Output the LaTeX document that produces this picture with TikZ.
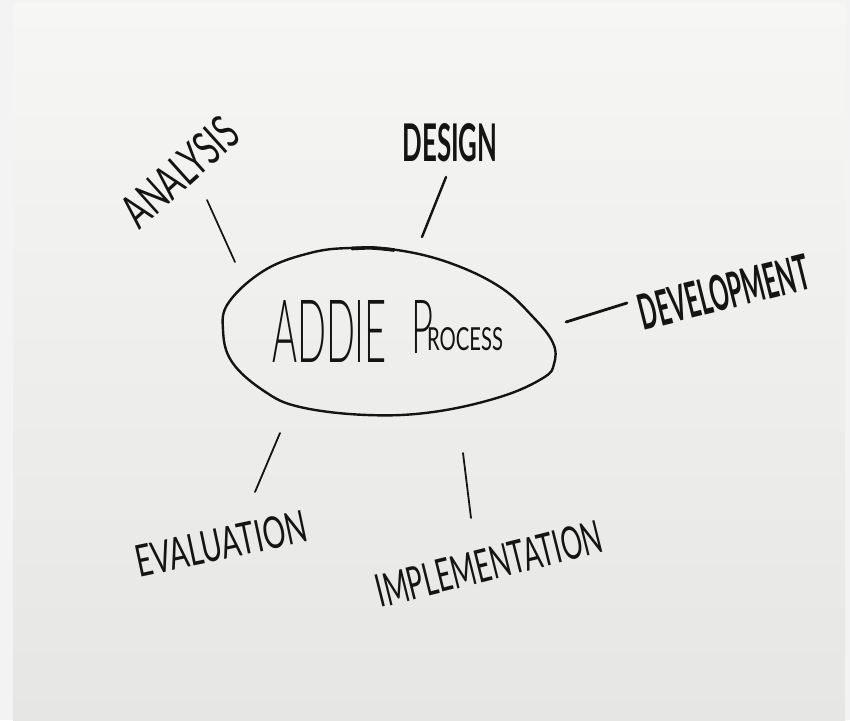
\documentclass[tikz,border=0pt]{standalone}
\usepackage{fontspec}
\usepackage{graphicx}
\newfontfamily\hand{Lato}
\newfontfamily\handlight{Lato}[UprightFont={* Light}]
\definecolor{ink}{HTML}{141414}
\definecolor{frame}{HTML}{F3F3F3}
\definecolor{boardtop}{HTML}{F6F6F4}
\definecolor{boardmid}{HTML}{EFEFED}
\definecolor{boardbot}{HTML}{E6E6E4}
\begin{document}
\begin{tikzpicture}[x=1pt,y=-1pt,
  word/.style={font=\hand, text=ink, inner sep=0pt, outer sep=0pt},
  link/.style={draw=ink, line cap=round, line width=2pt},
  hubline/.style={draw=ink, line width=2.4pt}]
\useasboundingbox (0,0) rectangle (850,720);
\fill[frame] (0,0) rectangle (850,720);
\shade[top color=boardtop, middle color=boardmid, bottom color=boardbot] (13,3) rectangle (845,720);

% hub outline
\draw[hubline] plot[smooth cycle, tension=0.65] coordinates {
  (223,330) (229,302) (265,270) (310,253) (350,248) (397,250) (450,263)
  (500,287) (533,317) (553,343) (554,364) (543,378) (500,397) (433,412)
  (367,415) (300,407) (264,391) (232,362)};
\draw[ink, line width=3.6pt, line cap=round] (352,248.5) .. controls (372,247.5) .. (394,250);

% hub text
\node[word, font=\handlight, anchor=base west] (hub) at (272,362)
  {\resizebox{115pt}{62pt}{ADDIE}\hspace{24pt}\raisebox{9pt}{\resizebox{22pt}{53pt}{P}}\hspace{-6pt}\raisebox{12pt}{\resizebox{76pt}{23pt}{\hand ROCESS}}};

% labels
\node[word, rotate=42] (analysis) at (180,172) {\resizebox{138pt}{34pt}{ANALYSIS}};
\node[word] (design) at (450,143) {\resizebox{95pt}{38pt}{\bfseries DESIGN}};
\node[word, rotate=14] (development) at (724,292) {\resizebox{174pt}{36pt}{\bfseries DEVELOPMENT}};
\node[word, rotate=12] (evaluation) at (221,544) {\resizebox{174pt}{32pt}{EVALUATION}};
\node[word, rotate=14] (implementation) at (489,564) {\resizebox{231pt}{33pt}{IMPLEMENTATION}};

% connector ends
\coordinate (a1) at (207,200); \coordinate (a2) at (235,262);
\coordinate (d1) at (446,177); \coordinate (d2) at (422,237);
\coordinate (v1) at (566,322); \coordinate (v2) at (627,303);
\coordinate (e1) at (280,433); \coordinate (e2) at (255,492);
\coordinate (i1) at (463,453); \coordinate (i2) at (471,518);

\draw[link, line width=1.7pt] (a1) -- (a2);
\draw[link, line width=2.4pt] (d1) -- (d2);
\draw[link, line width=2.8pt] (v1) -- (v2);
\draw[link, line width=1.8pt] (e1) -- (e2);
\draw[link, line width=1.8pt] (i1) -- (i2);
\end{tikzpicture}
\end{document}
